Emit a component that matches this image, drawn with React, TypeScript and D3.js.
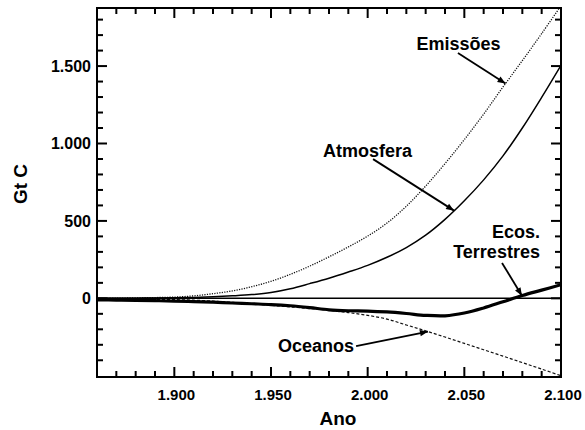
import React, { useEffect, useRef } from 'react';
import * as d3 from 'd3';

// Cumulative carbon (Gt C), one value per decade 1860..2100
const years = [1860, 1870, 1880, 1890, 1900, 1910, 1920, 1930, 1940, 1950, 1960, 1970, 1980,
  1990, 2000, 2010, 2020, 2030, 2040, 2050, 2060, 2070, 2080, 2090, 2100];
const emissions = [0, 1, 3, 5, 8, 16, 30, 48, 75, 110, 155, 208, 268,
  332, 402, 486, 595, 725, 870, 1025, 1190, 1365, 1535, 1710, 1890];
const atmosphere = [0, 0, 1, 2, 3, 6, 10, 16, 24, 38, 62, 95, 130,
  170, 213, 265, 328, 408, 510, 630, 765, 920, 1100, 1298, 1505];
const oceans = [-3, -4, -5, -6, -8, -12, -18, -26, -35, -45, -55, -66, -78,
  -92, -110, -134, -172, -210, -250, -291, -332, -373, -415, -457, -500];
const terrestrial = [-10, -11, -13, -15, -18, -21, -25, -30, -35, -40, -48, -60, -74,
  -80, -82, -88, -98, -110, -113, -95, -62, -22, 18, 53, 88];

const yLabelTicks = [0, 500, 1000, 1500];
const xLabelTicks = [1900, 1950, 2000, 2050, 2100];

// annotation text (data coords) and arrows: from a point to a year on a series
const annotations = [
  { lines: ['Emissões'], x: 2025.3, y: 1606, anchor: 'start', from: [2046.7, 1584], to: 2071.3, series: 'e' },
  { lines: ['Atmosfera'], x: 1976.9, y: 912, anchor: 'start', from: [2002.8, 899], to: 2044.7, series: 'a' },
  { lines: ['Ecos.', 'Terrestres'], x: 2089.1, y: 389, anchor: 'end', from: [2069.5, 228], to: 2079.8, series: 't' },
  { lines: ['Oceanos'], x: 1953.6, y: -347, anchor: 'start', from: [1994, -308], to: 2031.2, series: 'o' },
];

const W = 585;
const H = 430;
const margin = { top: 8, right: 24, bottom: 53, left: 97 };

const App = () => {
  const ref = useRef(null);

  useEffect(() => {
    const svg = d3.select(ref.current);
    svg.selectAll('*').remove();

    const x = d3.scaleLinear().domain([1860, 2100]).range([margin.left, W - margin.right]);
    const y = d3.scaleLinear().domain([-508, 1875]).range([H - margin.bottom, margin.top]);
    const [x0, x1] = x.range();
    const [y1, y0] = y.range();

    const font = '"Liberation Sans", Arial, sans-serif';
    const fmt = d3.formatLocale({ decimal: ',', thousands: '.', grouping: [3], currency: ['', ''] }).format(',');

    svg.append('defs').append('marker')
      .attr('id', 'arrow')
      .attr('viewBox', '0 0 10 10')
      .attr('refX', 10).attr('refY', 5)
      .attr('markerWidth', 9).attr('markerHeight', 8)
      .attr('markerUnits', 'userSpaceOnUse')
      .attr('orient', 'auto')
      .append('path').attr('d', 'M0,1L10,5L0,9Z').attr('fill', '#000');

    svg.append('clipPath').attr('id', 'plot')
      .append('rect').attr('x', x0).attr('y', y0).attr('width', x1 - x0).attr('height', y1 - y0);

    // ticks: minor every 10 years / 100 Gt, majors longer
    const xMinor = d3.range(1870, 2100, 10).filter(v => v % 50 !== 0);
    const xMajor = [1900, 1950, 2000, 2050];
    const yMinor = d3.range(-400, 1875, 100).filter(v => v % 500 !== 0);
    const yMajor = [0, 500, 1000, 1500];

    const tickG = svg.append('g').attr('stroke', '#000').attr('stroke-width', 2);
    const addX = (vals, len) => vals.forEach(v => {
      tickG.append('line').attr('x1', x(v)).attr('x2', x(v)).attr('y1', y1).attr('y2', y1 - len);
      tickG.append('line').attr('x1', x(v)).attr('x2', x(v)).attr('y1', y0).attr('y2', y0 + len);
    });
    const addY = (vals, len) => vals.forEach(v => {
      tickG.append('line').attr('x1', x0).attr('x2', x0 + len).attr('y1', y(v)).attr('y2', y(v));
      tickG.append('line').attr('x1', x1).attr('x2', x1 - len).attr('y1', y(v)).attr('y2', y(v));
    });
    addX(xMinor, 6);
    addX(xMajor, 10);
    addY(yMinor, 6);
    addY(yMajor, 10);

    // tick labels
    svg.append('g').selectAll('text').data(xLabelTicks).join('text')
      .attr('x', d => x(d) + 2).attr('y', 400)
      .attr('text-anchor', 'middle')
      .attr('font-family', font).attr('font-weight', 'bold').attr('font-size', 15)
      .text(d => fmt(d));
    svg.append('g').selectAll('text').data(yLabelTicks).join('text')
      .attr('x', x0 - 6).attr('y', d => y(d) + 6)
      .attr('text-anchor', 'end')
      .attr('font-family', font).attr('font-weight', 'bold').attr('font-size', 16)
      .text(d => fmt(d));

    // axis titles
    svg.append('text')
      .attr('x', 338).attr('y', 425)
      .attr('text-anchor', 'middle')
      .attr('font-family', font).attr('font-weight', 'bold').attr('font-size', 19)
      .text('Ano');
    svg.append('text')
      .attr('transform', 'translate(27,184) rotate(-90)')
      .attr('text-anchor', 'middle')
      .attr('font-family', font).attr('font-weight', 'bold').attr('font-size', 19)
      .text('Gt C');

    // curves
    const plot = svg.append('g').attr('clip-path', 'url(#plot)');
    const line = d3.line().x(d => x(d[0])).y(d => y(d[1])).curve(d3.curveCatmullRom.alpha(0.5));
    const pts = vals => years.map((yr, i) => [yr, vals[i]]);

    plot.append('line')
      .attr('x1', x0).attr('x2', x1).attr('y1', y(0)).attr('y2', y(0))
      .attr('stroke', '#000').attr('stroke-width', 1.5);

    plot.append('path').datum(pts(emissions))
      .attr('fill', 'none').attr('stroke', '#111').attr('stroke-width', 1.3)
      .attr('stroke-dasharray', '1.2,1.3').attr('d', line);
    plot.append('path').datum(pts(oceans))
      .attr('fill', 'none').attr('stroke', '#111').attr('stroke-width', 1.2)
      .attr('stroke-dasharray', '3,2').attr('d', line);
    plot.append('path').datum(pts(atmosphere))
      .attr('fill', 'none').attr('stroke', '#000').attr('stroke-width', 1.5).attr('d', line);
    plot.append('path').datum(pts(terrestrial))
      .attr('fill', 'none').attr('stroke', '#000').attr('stroke-width', 3.2).attr('d', line);

    // frame
    svg.append('rect')
      .attr('x', x0).attr('y', y0).attr('width', x1 - x0).attr('height', y1 - y0)
      .attr('fill', 'none').attr('stroke', '#000').attr('stroke-width', 2);

    // annotations
    const seriesMap = { e: emissions, a: atmosphere, o: oceans, t: terrestrial };
    const valueAt = (vals, yr) => d3.scaleLinear().domain(years).range(vals)(yr);
    annotations.forEach(a => {
      const t = svg.append('text')
        .attr('x', x(a.x)).attr('y', y(a.y))
        .attr('text-anchor', a.anchor)
        .attr('font-family', font).attr('font-weight', 'bold').attr('font-size', 18);
      a.lines.forEach((s, i) => {
        t.append('tspan').attr('x', x(a.x)).attr('dy', i === 0 ? 0 : 20).text(s);
      });
      svg.append('line')
        .attr('x1', x(a.from[0])).attr('y1', y(a.from[1]))
        .attr('x2', x(a.to)).attr('y2', y(valueAt(seriesMap[a.series], a.to)))
        .attr('stroke', '#000').attr('stroke-width', 1.8)
        .attr('marker-end', 'url(#arrow)');
    });
  }, []);

  return (
    <svg ref={ref} width={W} height={H}
      style={{ position: 'absolute', left: 0, top: 0, background: '#fff' }} />
  );
};

export default App;
